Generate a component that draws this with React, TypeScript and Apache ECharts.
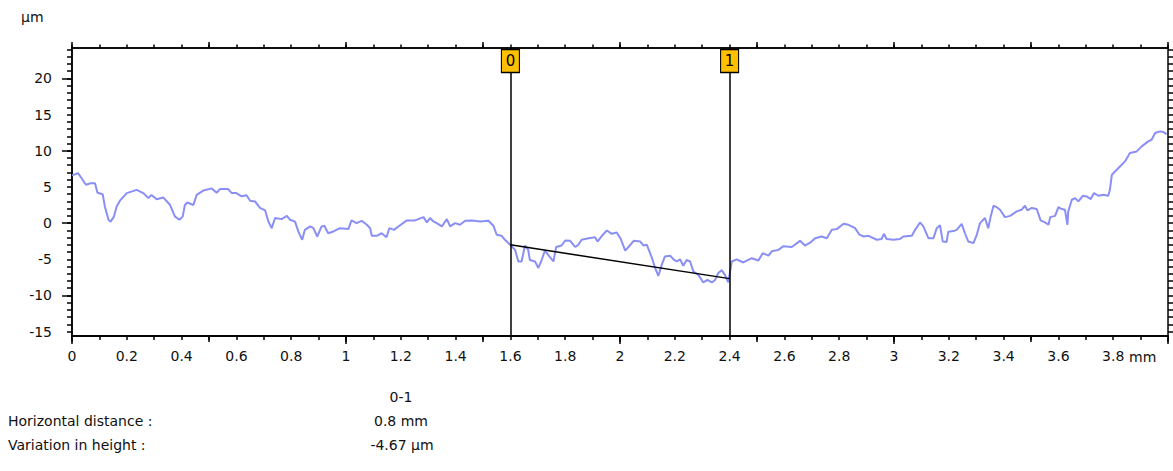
import React, { useEffect, useRef } from "react";
import * as echarts from "echarts";

// Profile (position in mm, height in µm)
const profileX = [
  0, 0.022, 0.035, 0.051, 0.068, 0.084, 0.093, 0.112, 0.12, 0.133, 0.141, 0.153, 0.163, 0.175, 0.2,
  0.236, 0.26, 0.279, 0.29, 0.309, 0.333, 0.358, 0.376, 0.392, 0.404, 0.412, 0.421, 0.443, 0.455,
  0.479, 0.51, 0.528, 0.54, 0.57, 0.583, 0.6, 0.619, 0.637, 0.65, 0.668, 0.686, 0.705, 0.717, 0.729,
  0.741, 0.765, 0.784, 0.796, 0.814, 0.826, 0.84, 0.85, 0.869, 0.881, 0.895, 0.911, 0.921, 0.935,
  0.954, 0.978, 1.009, 1.02, 1.039, 1.057, 1.076, 1.088, 1.094, 1.112, 1.13, 1.148, 1.158, 1.175,
  1.191, 1.222, 1.252, 1.283, 1.295, 1.307, 1.319, 1.331, 1.35, 1.368, 1.38, 1.398, 1.416, 1.435,
  1.459, 1.49, 1.52, 1.538, 1.55, 1.568, 1.58, 1.602, 1.617, 1.629, 1.641, 1.653, 1.665, 1.671,
  1.69, 1.702, 1.714, 1.726, 1.738, 1.757, 1.767, 1.787, 1.8, 1.818, 1.836, 1.848, 1.86, 1.885,
  1.909, 1.918, 1.934, 1.952, 1.97, 1.988, 2.003, 2.019, 2.031, 2.05, 2.074, 2.086, 2.098, 2.117,
  2.128, 2.14, 2.152, 2.164, 2.183, 2.195, 2.207, 2.219, 2.231, 2.243, 2.256, 2.268, 2.286, 2.304,
  2.319, 2.335, 2.347, 2.359, 2.371, 2.383, 2.395, 2.408, 2.426, 2.45, 2.481, 2.505, 2.521, 2.542,
  2.554, 2.578, 2.596, 2.627, 2.657, 2.675, 2.694, 2.712, 2.736, 2.755, 2.773, 2.791, 2.816, 2.834,
  2.858, 2.874, 2.889, 2.907, 2.937, 2.955, 2.963, 2.973, 2.998, 3.022, 3.034, 3.065, 3.077, 3.095,
  3.107, 3.126, 3.144, 3.156, 3.168, 3.178, 3.192, 3.198, 3.217, 3.229, 3.247, 3.259, 3.271, 3.29,
  3.302, 3.314, 3.332, 3.344, 3.353, 3.363, 3.375, 3.387, 3.405, 3.424, 3.448, 3.466, 3.478, 3.487,
  3.503, 3.521, 3.535, 3.551, 3.564, 3.57, 3.588, 3.6, 3.612, 3.624, 3.633, 3.636, 3.649, 3.661,
  3.673, 3.689, 3.703, 3.718, 3.73, 3.746, 3.764, 3.782, 3.788, 3.795, 3.813, 3.831, 3.843, 3.861,
  3.886, 3.904, 3.928, 3.94, 3.953, 3.971, 3.983, 3.995,
];
const profileY = [
  6.6, 6.9, 6.2, 5.3, 5.5, 5.5, 4.2, 4.0, 2.3, 0.46, 0.2, 0.9, 2.3, 3.1, 4.15,
  4.6, 4.15, 3.45, 3.9, 3.3, 3.55, 2.5, 0.9, 0.46, 0.9, 2.5, 2.85, 2.5, 3.9,
  4.5, 4.8, 4.2, 4.7, 4.7, 4.15, 4.15, 3.7, 3.85, 3.1, 3.0, 2.1, 1.75, 0.2, -0.7,
  0.7, 0.55, 1.0, 0.46, 0.2, -1.15, -2.3, -0.93, -0.46, -0.7, -1.85, -0.46, -0.37, -1.4,
  -1.15, -0.7, -0.8, 0.37, 0.0, 0.32, -0.23, -0.7, -1.75, -1.75, -1.4, -1.95, -0.7, -0.93,
  -0.46, 0.37, 0.37, 0.83, 0.09, 0.7, 0.23, 0.0, -0.46, 0.55, -0.46, 0.0, -0.23, 0.32,
  0.37, 0.23, 0.32, -0.37, -1.6, -1.75, -2.3, -3.1, -3.7, -5.3, -5.3, -3.1, -3.7, -5.1,
  -5.3, -6.2, -5.1, -3.8, -4.4, -5.3, -3.3, -3.1, -2.4, -2.45, -3.3, -3.0, -2.3, -2.1,
  -1.95, -2.55, -1.75, -1.02, -1.48, -1.3, -2.2, -3.8, -3.3, -2.45, -2.55, -3.1, -3.0, -4.85,
  -6.2, -7.3, -5.8, -4.6, -4.5, -5.0, -5.3, -5.0, -5.9, -5.1, -5.3, -6.7, -7.15, -8.2,
  -7.85, -8.2, -7.85, -6.9, -6.5, -7.15, -8.2, -5.3, -5.0, -5.44, -4.85, -5.17, -4.15, -4.5,
  -3.9, -3.7, -3.2, -3.3, -2.45, -3.1, -2.7, -2.1, -1.85, -2.1, -0.93, -0.83, -0.09, -0.23,
  -0.7, -1.6, -1.85, -1.75, -2.3, -2.2, -1.48, -2.2, -2.3, -2.2, -1.85, -1.75, -0.93, 0.09,
  -0.46, -2.1, -2.1, -0.7, -0.3, -2.55, -2.6, -1.2, -1.1, -0.93, -0.1, -1.4, -2.54, -2.77,
  -1.62, 0.0, 0.7, -0.7, 0.93, 2.4, 2.2, 1.85, 0.83, 1.0, 1.62, 1.85, 2.4, 1.76,
  2.1, 1.95, 0.37, 0.1, -0.23, 0.83, 1.0, 2.2, 1.95, 1.85, -0.23, 1.62, 3.23, 3.46,
  3.0, 3.78, 3.69, 3.32, 4.15, 3.78, 3.92, 3.78, 4.6, 6.68, 7.37, 8.07, 8.53, 9.68,
  9.91, 10.6, 11.3, 11.52, 12.45, 12.68, 12.58, 12.3,
];

// Cursors
const cursorLabels = ["0", "1"];
const cursorX = [1.6, 2.4];
const cursorY = [-3.0, -7.67];

// Axis ranges and tick labels
const X_MIN = 0;
const X_MAX = 4.0;
const Y_MIN = -15.6;
const Y_MAX = 24.2;
const xLabelValues = [0, 0.2, 0.4, 0.6, 0.8, 1, 1.2, 1.4, 1.6, 1.8, 2, 2.2, 2.4, 2.6, 2.8, 3, 3.2, 3.4, 3.6, 3.8];
const yLabelValues = [-15, -10, -5, 0, 5, 10, 15, 20];

const range = (a: number, b: number, step: number) => {
  const out: number[] = [];
  const n = Math.round((b - a) / step);
  for (let i = 0; i <= n; i++) out.push(Math.round((a + i * step) * 1000) / 1000);
  return out;
};

const FONT = '"DejaVu Sans", sans-serif';
const TEXT_COLOR = "#111";
const AXIS_COLOR = "#000";

function makeXAxis(position: string, ticks: number[], len: number, labels?: number[]) {
  return {
    type: "value",
    position,
    gridIndex: 0,
    min: X_MIN,
    max: X_MAX,
    axisLine: { show: true, onZero: false, lineStyle: { color: AXIS_COLOR, width: 1.5 } },
    axisTick: { show: true, inside: false, length: len, customValues: ticks, lineStyle: { color: AXIS_COLOR, width: 1.5 } },
    axisLabel: labels
      ? {
          show: true,
          customValues: labels,
          margin: 13,
          color: TEXT_COLOR,
          fontFamily: FONT,
          fontSize: 14,
          formatter: (v: number) => String(Number(v.toFixed(2))),
        }
      : { show: false },
    splitLine: { show: false },
    minorTick: { show: false },
  };
}

function makeYAxis(position: string, ticks: number[], len: number, labels?: number[]) {
  return {
    type: "value",
    position,
    gridIndex: 0,
    min: Y_MIN,
    max: Y_MAX,
    axisLine: { show: true, onZero: false, lineStyle: { color: AXIS_COLOR, width: 1.5 } },
    axisTick: { show: true, inside: false, length: len, customValues: ticks, lineStyle: { color: AXIS_COLOR, width: 1.5 } },
    axisLabel: labels
      ? {
          show: true,
          customValues: labels,
          margin: 20,
          color: TEXT_COLOR,
          fontFamily: FONT,
          fontSize: 14,
          formatter: (v: number) => String(Number(v.toFixed(2))),
        }
      : { show: false },
    splitLine: { show: false },
    minorTick: { show: false },
  };
}

export default function App() {
  const ref = useRef<HTMLDivElement>(null);

  useEffect(() => {
    if (!ref.current) return;
    const chart = echarts.init(ref.current, null, { renderer: "svg" });

    const profile = profileX.map((x, i) => [x, profileY[i]]);
    const dist = (cursorX[1] - cursorX[0]).toFixed(1);
    const dh = (cursorY[1] - cursorY[0]).toFixed(2);

    const textStyle = (extra: any) => ({ font: `14px ${FONT}`, fill: TEXT_COLOR, verticalAlign: "middle", ...extra });

    chart.setOption({
      animation: false,
      backgroundColor: "#fff",
      grid: { left: 72, right: 5, top: 48, bottom: 135, containLabel: false },
      xAxis: [
        makeXAxis("bottom", range(0, 4, 0.1), 4),
        makeXAxis("bottom", range(0, 4, 0.5), 6, xLabelValues),
        makeXAxis("bottom", range(0, 4, 1), 8),
        makeXAxis("top", range(0, 4, 0.1), 3.5),
        makeXAxis("top", range(0, 4, 0.5), 6),
      ],
      yAxis: [
        makeYAxis("left", range(-15, 24, 1), 5),
        makeYAxis("left", range(-10, 20, 10), 10, yLabelValues),
        makeYAxis("right", range(-15, 24, 1), 5),
      ],
      series: [
        {
          type: "line",
          xAxisIndex: 0,
          yAxisIndex: 0,
          data: profile,
          showSymbol: false,
          symbol: "none",
          lineStyle: { color: "#8a8ff5", width: 2 },
          silent: true,
          z: 2,
          markLine: {
            silent: true,
            symbol: "none",
            label: { show: false },
            lineStyle: { color: "#000", width: 1.5, type: "solid" },
            data: cursorX.map((x) => [{ coord: [x, Y_MIN] }, { coord: [x, Y_MAX] }]),
          },
        },
        {
          type: "line",
          xAxisIndex: 0,
          yAxisIndex: 0,
          data: cursorX.map((x, i) => [x, cursorY[i]]),
          showSymbol: false,
          symbol: "none",
          lineStyle: { color: "#000", width: 1.5 },
          silent: true,
          z: 3,
          markPoint: {
            silent: true,
            z: 10,
            symbol: "rect",
            symbolSize: [18, 23],
            symbolOffset: [0, 13],
            itemStyle: { color: "#FFC000", borderColor: "#000", borderWidth: 1.2 },
            label: { show: true, position: "inside", color: "#000", fontFamily: FONT, fontSize: 15 },
            data: cursorX.map((x, i) => ({ coord: [x, Y_MAX], value: cursorLabels[i], label: { formatter: cursorLabels[i] } })),
          },
        },
      ],
      graphic: [
        { type: "text", x: 21, y: 17, style: textStyle({ text: "µm", align: "left" }) },
        { type: "text", x: 1129, y: 357, style: textStyle({ text: "mm", align: "left" }) },
        { type: "text", x: 401, y: 397, style: textStyle({ text: `${cursorLabels[0]}-${cursorLabels[1]}`, align: "center" }) },
        { type: "text", x: 8, y: 421, style: textStyle({ text: "Horizontal distance :", align: "left" }) },
        { type: "text", x: 401, y: 421, style: textStyle({ text: `${dist} mm`, align: "center" }) },
        { type: "text", x: 8, y: 445, style: textStyle({ text: "Variation in height :", align: "left" }) },
        { type: "text", x: 402, y: 445, style: textStyle({ text: `${dh} µm`, align: "center" }) },
      ],
    });

    return () => chart.dispose();
  }, []);

  return (
    <div
      ref={ref}
      style={{ position: "fixed", left: 0, top: 0, width: "1173px", height: "471px", background: "#fff" }}
    />
  );
}
